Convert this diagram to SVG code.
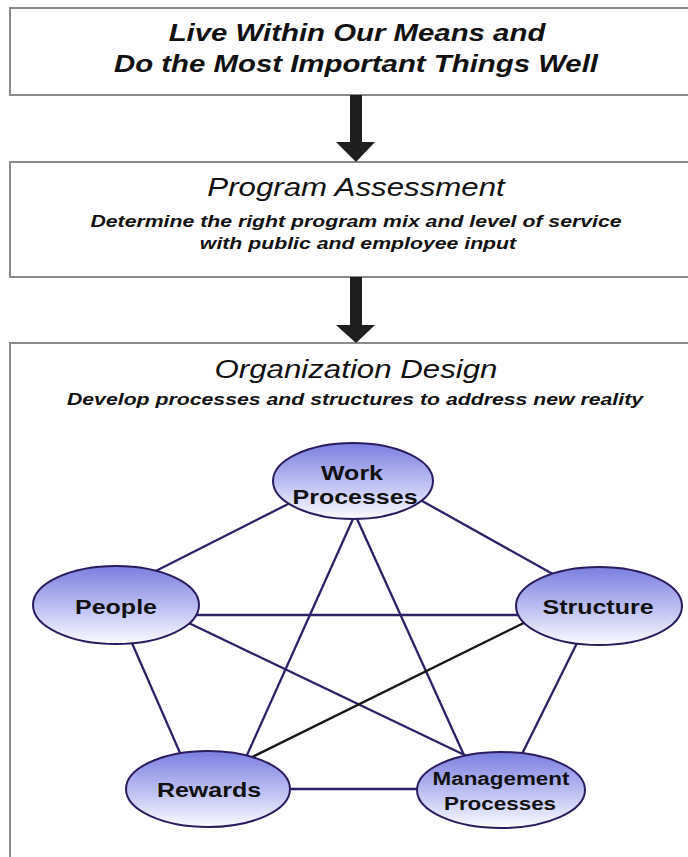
<svg xmlns="http://www.w3.org/2000/svg" width="688" height="857" viewBox="0 0 688 857">
<style>
.box{fill:#fff;stroke:#8a8a8a;stroke-width:2}
.arrow{fill:#1e1e1e}
.t{font-family:"Liberation Sans",Arial,sans-serif;text-anchor:middle;fill:#111}
.title{font-size:23.5px;font-style:italic;font-weight:bold}
.head{font-size:25px;font-style:italic}
.sub{font-size:17px;font-style:italic;font-weight:bold}
.lab{font-size:21px;font-weight:bold}
.lab2{font-size:19px;font-weight:bold}
.node{fill:url(#g);stroke:#2a1c5e;stroke-width:2}
.edge{stroke:#2e2068;stroke-width:2.3;fill:none}
</style>
<defs>
<linearGradient id="g" x1="0" y1="0" x2="0" y2="1">
<stop offset="0" stop-color="#7a7edf"/>
<stop offset="0.55" stop-color="#bfc2f2"/>
<stop offset="1" stop-color="#fbfbff"/>
</linearGradient>
</defs>
<rect width="688" height="857" fill="#fff"/>

<g id="box1">
<rect class="box" x="10" y="8" width="700" height="87"/>
<text class="t title" transform="translate(357 41) scale(1.25 1)">Live Within Our Means and</text>
<text class="t title" transform="translate(356 72) scale(1.25 1)">Do the Most Important Things Well</text>
</g>

<g id="box2">
<rect class="box" x="10" y="162" width="700" height="115"/>
<text class="t head" transform="translate(356 196) scale(1.25 1)">Program Assessment</text>
<text class="t sub" transform="translate(356 227) scale(1.25 1)">Determine the right program mix and level of service</text>
<text class="t sub" transform="translate(358 249) scale(1.25 1)">with public and employee input</text>
</g>

<g id="box3">
<rect class="box" x="10" y="343" width="700" height="540"/>
<text class="t head" transform="translate(356 378) scale(1.25 1)">Organization Design</text>
<text class="t sub" transform="translate(355 405) scale(1.25 1)">Develop processes and structures to address new reality</text>
</g>

<g id="arrows">
<path class="arrow" d="M350 95 H362 V142 H375 L356 162 L336 142 H350 Z"/>
<path class="arrow" d="M350 277 H362 V325 H375 L356 343 L336 325 H350 Z"/>
</g>

<g id="connectors">
<line class="edge" x1="300" y1="498" x2="140" y2="579"/>
<line class="edge" x1="415" y1="497" x2="560" y2="578"/>
<line class="edge" x1="180" y1="615" x2="530" y2="615"/>
<line class="edge" x1="128" y1="634" x2="184" y2="762"/>
<line class="edge" x1="170" y1="614" x2="475" y2="760"/>
<line class="edge" x1="357" y1="510" x2="243" y2="764"/>
<line class="edge" x1="353" y1="510" x2="468" y2="764"/>
<line class="edge" x1="540" y1="615" x2="240" y2="763" style="stroke:#161616"/>
<line class="edge" x1="581" y1="635" x2="519" y2="760"/>
<line class="edge" x1="250" y1="789" x2="460" y2="789"/>
</g>

<g id="work-processes">
<ellipse class="node" cx="353" cy="481" rx="80" ry="38"/>
<text class="t lab" transform="translate(352 480) scale(1.19 1)">Work</text>
<text class="t lab" transform="translate(355 504) scale(1.19 1)">Processes</text>
</g>
<g id="people">
<ellipse class="node" cx="116" cy="605" rx="83" ry="39"/>
<text class="t lab" transform="translate(116 614) scale(1.19 1)">People</text>
</g>
<g id="structure">
<ellipse class="node" cx="599" cy="606" rx="83" ry="39"/>
<text class="t lab" transform="translate(598 614) scale(1.19 1)">Structure</text>
</g>
<g id="rewards">
<ellipse class="node" cx="208" cy="789" rx="82" ry="38"/>
<text class="t lab" transform="translate(209 797) scale(1.19 1)">Rewards</text>
</g>
<g id="management-processes">
<ellipse class="node" cx="501" cy="790" rx="84" ry="38"/>
<text class="t lab2" transform="translate(501 785) scale(1.18 1)">Management</text>
<text class="t lab2" transform="translate(500 810) scale(1.18 1)">Processes</text>
</g>
</svg>
